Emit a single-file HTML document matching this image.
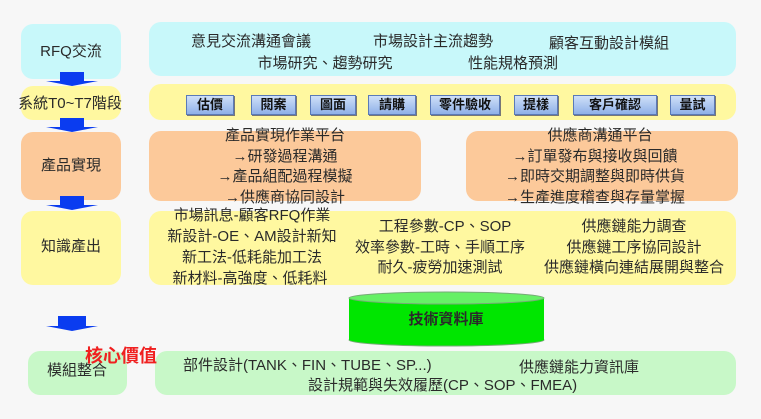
<!DOCTYPE html>
<html><head><meta charset="utf-8"><style>
body{margin:0;width:761px;height:419px;background:#f7f7f7;position:relative;overflow:hidden;font-family:"Liberation Sans","Noto Sans CJK TC",sans-serif;color:#2a2a2a;}
.b{position:absolute;border-radius:12px;}
.t{position:absolute;font-size:15px;white-space:nowrap;line-height:18px;}
.c{transform:translateX(-50%);}
.btn{position:absolute;top:95px;height:18px;background:linear-gradient(#cfe0f8,#8fb0e8);border:1px solid #5a7ab8;box-shadow:1px 1px 0 #777;font-size:13px;font-weight:bold;text-align:center;line-height:18px;color:#111;}
</style></head><body>
<div class="b" style="left:21px;top:24px;width:100px;height:55px;background:#c8f8fa"></div>
<div class="t c" style="left:71px;top:43px;font-size:15px">RFQ交流</div>
<div class="b" style="left:21px;top:86px;width:100px;height:34px;background:#fff8a0"></div>
<div class="t c" style="left:70px;top:95px;font-size:15px">系統T0~T7階段</div>
<div class="b" style="left:21px;top:132px;width:100px;height:68px;background:#fcc99a"></div>
<div class="t c" style="left:71px;top:157px">產品實現</div>
<div class="b" style="left:21px;top:211px;width:100px;height:74px;background:#fff8a0"></div>
<div class="t c" style="left:71px;top:238px">知識產出</div>
<div class="b" style="left:28px;top:351px;width:99px;height:44px;background:#c8f8c8"></div>
<div class="t c" style="left:77px;top:362px">模組整合</div>

<svg style="position:absolute;left:0;top:0" width="761" height="419">
<g fill="#0a3cf0">
<polygon points="60,72 84,72 84,81 98,81 72,86 46,81 60,81"/>
<polygon points="60,118 84,118 84,127 98,127 72,132 46,127 60,127"/>
<polygon points="60,196 84,196 84,205 98,205 72,210 46,205 60,205"/>
<polygon points="58,316 86,316 86,326 98,326 72,331 46,326 58,326"/>
</g>
<ellipse cx="446.5" cy="340" rx="97.5" ry="6" fill="#00e600" stroke="#7a7" stroke-width="1"/>
<rect x="349" y="298" width="195" height="42" fill="#00e600"/>
<ellipse cx="446.5" cy="298" rx="97.5" ry="6" fill="#66f066" stroke="#7a7" stroke-width="1"/>
</svg>

<div class="b" style="left:149px;top:22px;width:587px;height:54px;background:#c8f8fa"></div>
<div class="t c" style="left:251px;top:33px">意見交流溝通會議</div>
<div class="t c" style="left:433px;top:33px">市場設計主流趨勢</div>
<div class="t c" style="left:609px;top:35px">顧客互動設計模組</div>
<div class="t c" style="left:325px;top:55px">市場研究、趨勢研究</div>
<div class="t c" style="left:513px;top:55px">性能規格預測</div>

<div class="b" style="left:149px;top:84px;width:587px;height:36px;background:#fff8a0"></div>
<div class="btn" style="left:186px;width:46px">估價</div>
<div class="btn" style="left:251px;width:43px">閱案</div>
<div class="btn" style="left:310px;width:44px">圖面</div>
<div class="btn" style="left:368px;width:46px">請購</div>
<div class="btn" style="left:430px;width:68px">零件驗收</div>
<div class="btn" style="left:514px;width:42px">提樣</div>
<div class="btn" style="left:573px;width:82px">客戶確認</div>
<div class="btn" style="left:670px;width:43px">量試</div>

<div class="b" style="left:149px;top:131px;width:272px;height:70px;background:#fcc99a"></div>
<div class="b" style="left:466px;top:131px;width:272px;height:70px;background:#fcc99a"></div>
<div class="t c" style="left:285px;top:127px">產品實現作業平台</div>
<div class="t c" style="left:285px;top:148px">→研發過程溝通</div>
<div class="t c" style="left:285px;top:168px">→產品組配過程模擬</div>
<div class="t c" style="left:285px;top:189px">→供應商協同設計</div>
<div class="t c" style="left:600px;top:127px">供應商溝通平台</div>
<div class="t c" style="left:595px;top:148px">→訂單發布與接收與回饋</div>
<div class="t c" style="left:595px;top:168px">→即時交期調整與即時供貨</div>
<div class="t c" style="left:595px;top:189px">→生產進度稽查與存量掌握</div>

<div class="b" style="left:149px;top:211px;width:587px;height:74px;background:#fff8a0"></div>
<div class="t c" style="left:252px;top:207px">市場訊息-顧客RFQ作業</div>
<div class="t c" style="left:252px;top:228px">新設計-OE、AM設計新知</div>
<div class="t c" style="left:252px;top:249px">新工法-低耗能加工法</div>
<div class="t c" style="left:250px;top:270px">新材料-高強度、低耗料</div>
<div class="t c" style="left:445px;top:218px">工程參數-CP、SOP</div>
<div class="t c" style="left:440px;top:239px">效率參數-工時、手順工序</div>
<div class="t c" style="left:440px;top:259px">耐久-疲勞加速測試</div>
<div class="t c" style="left:634px;top:218px">供應鏈能力調查</div>
<div class="t c" style="left:634px;top:239px">供應鏈工序協同設計</div>
<div class="t c" style="left:634px;top:259px">供應鏈橫向連結展開與整合</div>

<div class="t c" style="left:446px;top:311px;font-weight:bold;font-size:15px">技術資料庫</div>

<div class="b" style="left:155px;top:351px;width:581px;height:44px;background:#c8f8c8"></div>
<div class="t" style="left:183px;top:357px">部件設計(TANK、FIN、TUBE、SP...)</div>
<div class="t" style="left:519px;top:359px">供應鏈能力資訊庫</div>
<div class="t" style="left:308px;top:377px">設計規範與失效履歷(CP、SOP、FMEA)</div>
<div class="t" style="left:85px;top:346px;color:#f02020;font-size:18px;font-weight:bold;line-height:20px">核心價值</div>
</body></html>
